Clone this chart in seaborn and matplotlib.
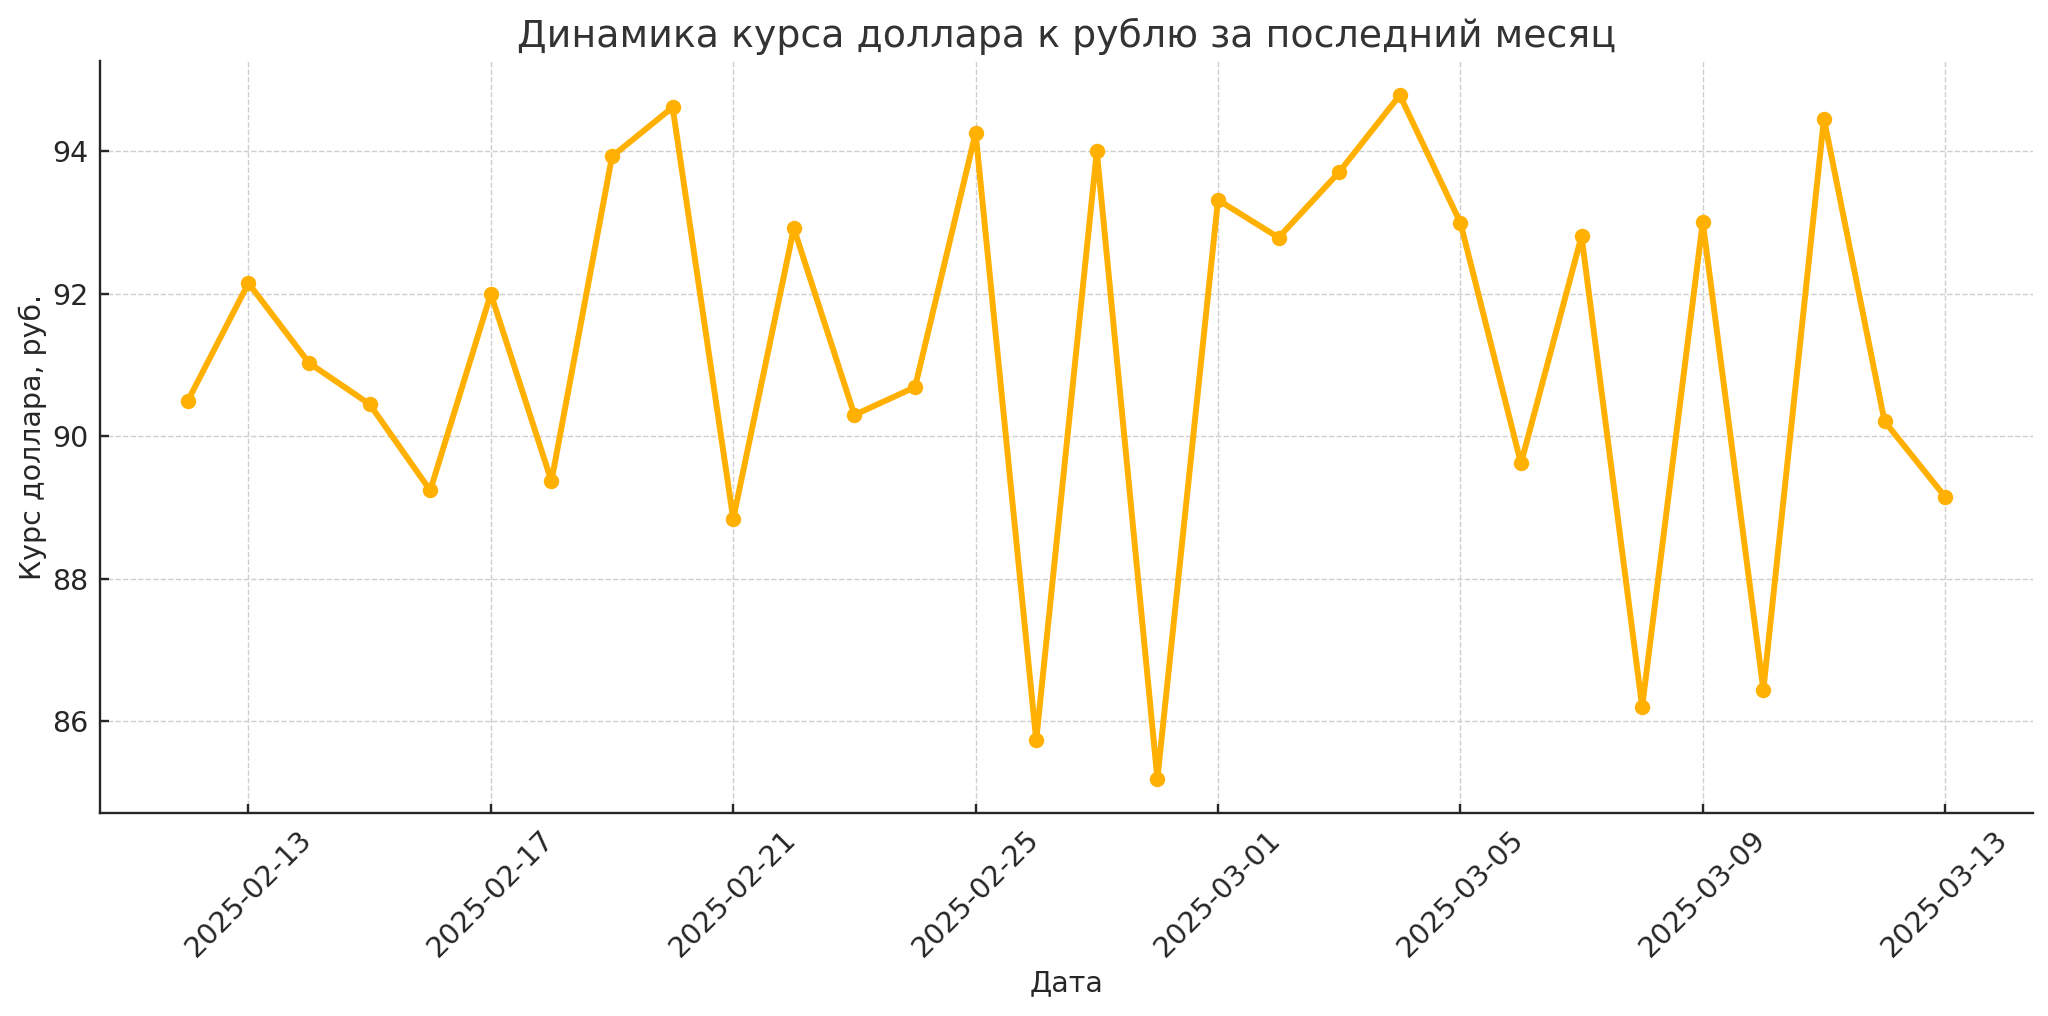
import matplotlib
matplotlib.use("Agg")
import matplotlib.pyplot as plt
import matplotlib.dates as mdates
import seaborn as sns
import pandas as pd
import numpy as np

dates = pd.date_range("2025-02-12", "2025-03-13", freq="D")
rates = [90.50, 92.15, 91.03, 90.45, 89.24, 92.00, 89.37, 93.93, 94.62, 88.84,
         92.92, 90.30, 90.69, 94.26, 85.73, 94.00, 85.19, 93.32, 92.79, 93.71,
         94.79, 93.00, 89.62, 92.81, 86.20, 93.01, 86.44, 94.46, 90.21, 89.15]
tick_labels = ["2025-02-13", "2025-02-17", "2025-02-21", "2025-02-25",
               "2025-03-01", "2025-03-05", "2025-03-09", "2025-03-13"]
title = "Динамика курса доллара к рублю за последний месяц"
xlabel = "Дата"
ylabel = "Курс доллара, руб."

df = pd.DataFrame({"date": dates, "rate": rates})

sns.set_theme(style="whitegrid")
plt.rcParams["font.family"] = ["DejaVu Sans"]

dpi = 2048 / 12
fig, ax = plt.subplots(figsize=(12, 1016 / dpi), dpi=dpi)
fig.subplots_adjust(left=100 / 2048, right=2033 / 2048, top=1 - 61 / 1016, bottom=1 - 813 / 1016)
ax.set_facecolor("white")

sns.lineplot(data=df, x="date", y="rate", ax=ax, color="#FFB000", linewidth=2.5,
             marker="o", markersize=6.5, markeredgewidth=0, markeredgecolor="#FFB000")

ax.set_xticks(pd.to_datetime(tick_labels))
ax.xaxis.set_major_formatter(mdates.DateFormatter("%Y-%m-%d"))
ax.set_yticks([86, 88, 90, 92, 94])

ax.grid(True, linestyle="--", color="#cfcfcf", linewidth=0.6)
for s in ["top", "right"]:
    ax.spines[s].set_visible(False)
for s in ["left", "bottom"]:
    ax.spines[s].set_visible(True)
    ax.spines[s].set_color("#262626")
    ax.spines[s].set_linewidth(1.0)

ax.tick_params(axis="both", direction="in", length=4, width=1, color="#262626",
               labelsize=12, labelcolor="#262626", pad=5, left=True, bottom=True)
plt.setp(ax.get_xticklabels(), rotation=45)

ax.set_title(title, fontsize=16, color="#333333", pad=6)
ax.set_xlabel(xlabel, fontsize=12, color="#262626", labelpad=3)
ax.set_ylabel(ylabel, fontsize=12, color="#262626", labelpad=2)

fig.savefig("out.png", dpi=dpi, facecolor="white")
